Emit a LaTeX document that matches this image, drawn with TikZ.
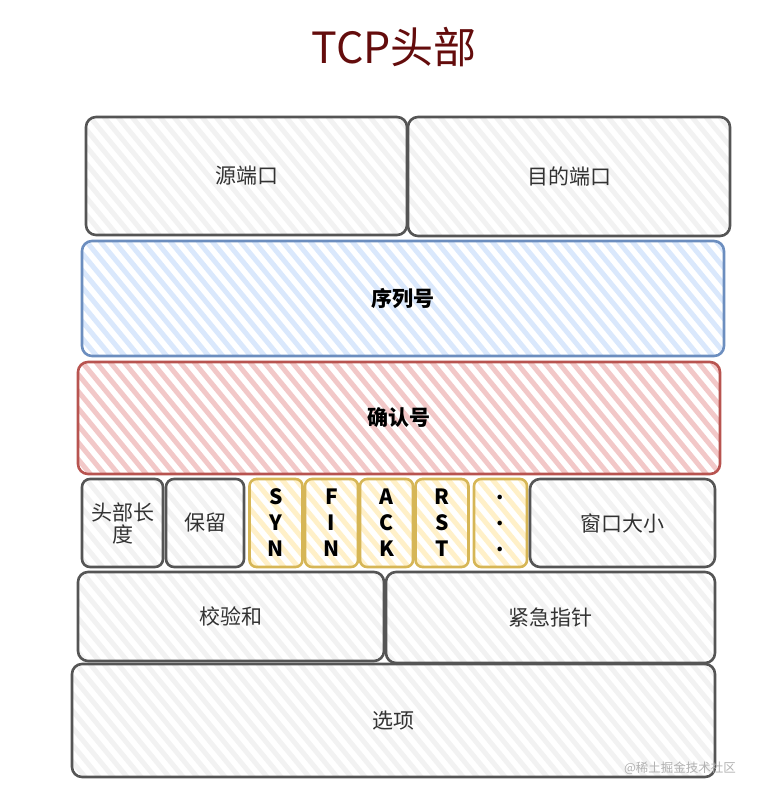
\documentclass[tikz,border=0pt]{standalone}
\usepackage{fontspec}
\setmainfont{Noto Sans CJK SC}
\usetikzlibrary{positioning}

\definecolor{grayline}{RGB}{85,85,85}
\definecolor{grayhatch}{RGB}{242,242,242}
\definecolor{blueline}{RGB}{108,142,191}
\definecolor{bluehatch}{RGB}{218,232,252}
\definecolor{redline}{RGB}{184,84,80}
\definecolor{redhatch}{RGB}{242,200,200}
\definecolor{yellowline}{RGB}{214,182,86}
\definecolor{yellowhatch}{RGB}{255,240,200}
\definecolor{titlered}{RGB}{100,12,12}
\definecolor{textgray}{RGB}{51,51,51}

\tikzset{
    hatch/.style={path picture={
        \foreach \k in {0,14,...,840}
            \draw[#1, line width=5pt, line cap=round]
                ([xshift=\k pt-150pt]path picture bounding box.north west)
                -- ++(140pt,-170pt);
    }},
    field/.style={draw=grayline, line width=2.6pt, rounded corners=10pt,
        hatch=grayhatch, text=textgray, font=\fontsize{21}{24}\selectfont,
        inner sep=0pt},
    seqbox/.style={field, draw=blueline, hatch=bluehatch, text=black,
        font=\bfseries\fontsize{21}{24}\selectfont},
    ackbox/.style={field, draw=redline, hatch=redhatch, text=black,
        font=\bfseries\fontsize{21}{24}\selectfont},
    flag/.style={field, draw=yellowline, hatch=yellowhatch, text=black,
        minimum width=53pt, minimum height=88pt, align=center,
        rounded corners=7pt, font=\bfseries\fontsize{21}{26}\selectfont},
}

\begin{document}
\begin{tikzpicture}[x=1pt, y=-1pt]
    \useasboundingbox (0,0) rectangle (777,789);
    % title
    \node[text=titlered, font=\fontsize{43}{45}\selectfont] (title)
        at (394,47) {TCP头部};
    % row 1: ports
    \node[field, minimum width=321pt, minimum height=118pt] (srcport)
        at (246.5,176) {源端口};
    \node[field, minimum width=322pt, minimum height=119pt] (dstport)
        at (569,176.5) {目的端口};
    % row 2 and 3: sequence and acknowledgement numbers
    \node[seqbox, minimum width=642pt, minimum height=115pt] (seqnum)
        at (403,298.5) {序列号};
    \node[ackbox, minimum width=642pt, minimum height=112pt] (acknum)
        at (399,418) {确认号};
    % row 4: header length, reserved, flags, window
    \node[field, minimum width=81pt, minimum height=88pt, align=center,
        rounded corners=8pt] (hdrlen) at (122.5,523) {头部长\\[-2pt]度};
    \node[field, minimum width=78pt, minimum height=88pt,
        rounded corners=8pt] (reserved) at (205,523) {保留};
    \node[flag] (syn) at (276,523) {S\\Y\\N};
    \node[flag] (fin) at (331.5,523) {F\\I\\N};
    \node[flag] (ack) at (386.5,523) {A\\C\\K};
    \node[flag] (rst) at (442,523) {R\\S\\T};
    \node[flag] (more) at (500.5,523) {.\\.\\.};
    \node[field, minimum width=185pt, minimum height=88pt] (window)
        at (622.5,523) {窗口大小};
    % row 5: checksum and urgent pointer
    \node[field, minimum width=306pt, minimum height=89pt] (checksum)
        at (231,616.5) {校验和};
    \node[field, minimum width=329pt, minimum height=91pt] (urgent)
        at (550.5,617.5) {紧急指针};
    % row 6: options
    \node[field, minimum width=643pt, minimum height=113pt] (options)
        at (393.5,720.5) {选项};
    % watermark
    \node[text=black!30, font=\fontsize{12.5}{14}\selectfont] (mark)
        at (680,768) {@稀土掘金技术社区};
\end{tikzpicture}
\end{document}
